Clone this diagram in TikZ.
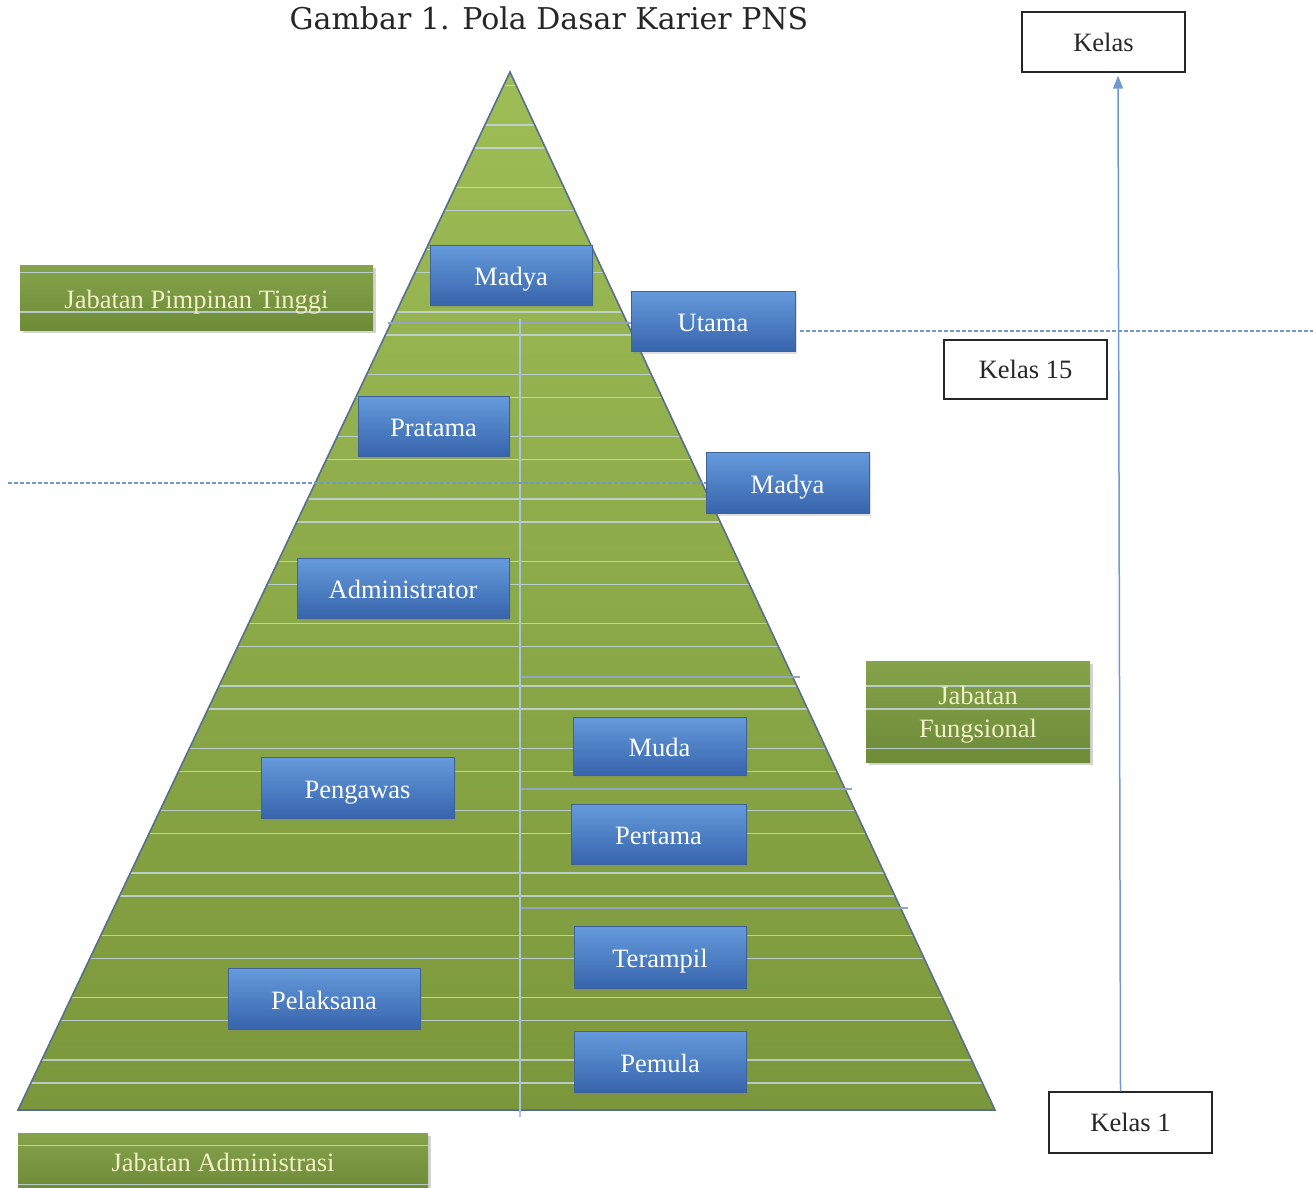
\documentclass[tikz,border=0pt]{standalone}
\usepackage{fontspec}
\setmainfont{Liberation Serif}
\newfontfamily\titlefont{DejaVu Serif}
\usetikzlibrary{shadows,arrows.meta}

\definecolor{trtop}{HTML}{9EBD56}
\definecolor{trbot}{HTML}{7B973B}
\definecolor{tredge}{HTML}{56708C}
\definecolor{gridc}{HTML}{C3D6DE}
\definecolor{gridd}{HTML}{8FA6BC}
\definecolor{vlinec}{HTML}{A9C2DE}
\definecolor{dashc}{HTML}{7298C8}
\definecolor{bluetop}{HTML}{659BDC}
\definecolor{bluebot}{HTML}{3764AC}
\definecolor{blueedge}{HTML}{3F6398}
\definecolor{labtop}{HTML}{84A34A}
\definecolor{labbot}{HTML}{6E8B38}
\definecolor{labtext}{HTML}{F2EFC8}
\definecolor{arrowc}{HTML}{6E9AD2}

\tikzset{
  boxfont/.style={font=\fontsize{26.5}{33}\selectfont},
  lowtext/.style={text height=24pt, text depth=3pt},
  rank/.style={boxfont, lowtext, draw=blueedge, line width=0.8pt, top color=bluetop,
    bottom color=bluebot, text=white, inner sep=0pt, minimum height=60pt,
    drop shadow={opacity=0.25, shadow xshift=2pt, shadow yshift=-3pt}},
  groupbox/.style={top color=labtop, bottom color=labbot, inner sep=0pt,
    drop shadow={opacity=0.35, shadow xshift=3pt, shadow yshift=-3pt}},
  grouptext/.style={boxfont, text=labtext, align=center, inner sep=0pt},
  classbox/.style={boxfont, draw=black!85, line width=1.3pt, fill=white,
    text=black!85, inner sep=0pt, minimum width=163pt, minimum height=60pt},
  gridline/.style={gridc, line width=1.5pt, opacity=0.85},
  darkline/.style={gridd, line width=1.1pt},
  levelline/.style={dashc, dashed, dash pattern=on 4pt off 2pt, line width=1.1pt},
}

\begin{document}
\begin{tikzpicture}[x=1pt,y=-1pt]
\useasboundingbox (0,0) rectangle (1313,1187);

% title
\node[font=\titlefont\fontsize{30}{34}\selectfont, text=black!85] (title) at (549,18)
  {Gambar 1. Pola Dasar Karier PNS};

% pyramid
\coordinate (apex) at (510,72);
\coordinate (br) at (995,1110);
\coordinate (bl) at (18,1110);
\path[top color=trtop, bottom color=trbot] (apex) -- (br) -- (bl) -- cycle;

% group labels (shapes only; text is set on top of the grid)
\node[groupbox, minimum width=353pt, minimum height=65pt] (jpt) at (196.5,297.5) {};
\node[groupbox, minimum width=224pt, minimum height=101pt] (jf) at (978,711.5) {};
\node[groupbox, minimum width=410pt, minimum height=56pt] (ja) at (223,1161) {};

% horizontal grid, visible on the green areas only
\begin{scope}
  \clip (apex) -- (br) -- (bl) -- cycle
        (jpt.south west) rectangle (jpt.north east)
        (jf.south west) rectangle (jf.north east)
        (ja.south west) rectangle (ja.north east);
  \foreach \k in {-1,...,17} {
    \draw[gridline] (0,{125+62.33*\k}) -- (1313,{125+62.33*\k});
    \draw[gridline] (0,{148+62.33*\k}) -- (1313,{148+62.33*\k});
  }
\end{scope}

% pyramid outline
\draw[tredge, line width=1.6pt, line join=miter] (apex) -- (br) -- (bl) -- cycle;

% extra guide lines
\coordinate (g1a) at (388,323); \coordinate (g1b) at (631,323);
\coordinate (g2a) at (520,677); \coordinate (g2b) at (800,677);
\coordinate (g3a) at (520,789); \coordinate (g3b) at (852,789);
\coordinate (g4a) at (520,908); \coordinate (g4b) at (908,908);
\draw[darkline] (g1a) -- (g1b);
\draw[darkline] (g2a) -- (g2b);
\draw[darkline] (g3a) -- (g3b);
\draw[darkline] (g4a) -- (g4b);
\coordinate (vtop) at (520,319);
\coordinate (vbot) at (520,1117);
\draw[vlinec, line width=1.3pt] (vtop) -- (vbot);

% level boundaries
\coordinate (lvlA1) at (8,483);
\coordinate (lvlA2) at (706,483);
\coordinate (lvlB1) at (800,331);
\coordinate (lvlB2) at (1313,331);
\draw[levelline] (lvlA1) -- (lvlA2);
\draw[levelline] (lvlB1) -- (lvlB2);

% group label texts
\node[grouptext, lowtext] (jptT) at (jpt) {Jabatan Pimpinan Tinggi};
\node[grouptext] (jfT) at ([yshift=-3pt]jf.center) {Jabatan\\Fungsional};
\node[grouptext, lowtext] (jaT) at (ja) {Jabatan Administrasi};

% ranks
\node[rank, minimum width=162pt] (madyaA) at (511,275) {Madya};
\node[rank, minimum width=164pt] (utama) at (713,321) {Utama};
\node[rank, minimum width=151pt] (pratama) at (433.5,426) {Pratama};
\node[rank, minimum width=163pt, minimum height=61pt] (madyaB) at (787.5,482.5) {Madya};
\node[rank, minimum width=212pt] (admin) at (403,588) {Administrator};
\node[rank, minimum width=173pt, minimum height=58pt] (muda) at (659.5,746) {Muda};
\node[rank, minimum width=193pt, minimum height=61pt] (pengawas) at (357.5,787.5) {Pengawas};
\node[rank, minimum width=175pt] (pertama) at (658.5,834) {Pertama};
\node[rank, minimum width=172pt, minimum height=62pt] (terampil) at (660,957) {Terampil};
\node[rank, minimum width=192pt, minimum height=61pt] (pelaksana) at (324,998.5) {Pelaksana};
\node[rank, minimum width=172pt, minimum height=61pt] (pemula) at (660,1061.5) {Pemula};

% class scale
\node[classbox] (kelas) at (1103.5,42) {Kelas};
\node[classbox, minimum height=59pt] (kelas15) at (1025.5,369.5) {Kelas 15};
\node[classbox, minimum height=61pt] (kelas1) at (1130.5,1122.5) {Kelas 1};
\draw[arrowc, line width=1.5pt, -{Triangle[length=13pt,width=10pt]}, shorten >=3pt]
  ([xshift=-10pt]kelas1.north) -- ([xshift=14.5pt]kelas.south);

\end{tikzpicture}
\end{document}
